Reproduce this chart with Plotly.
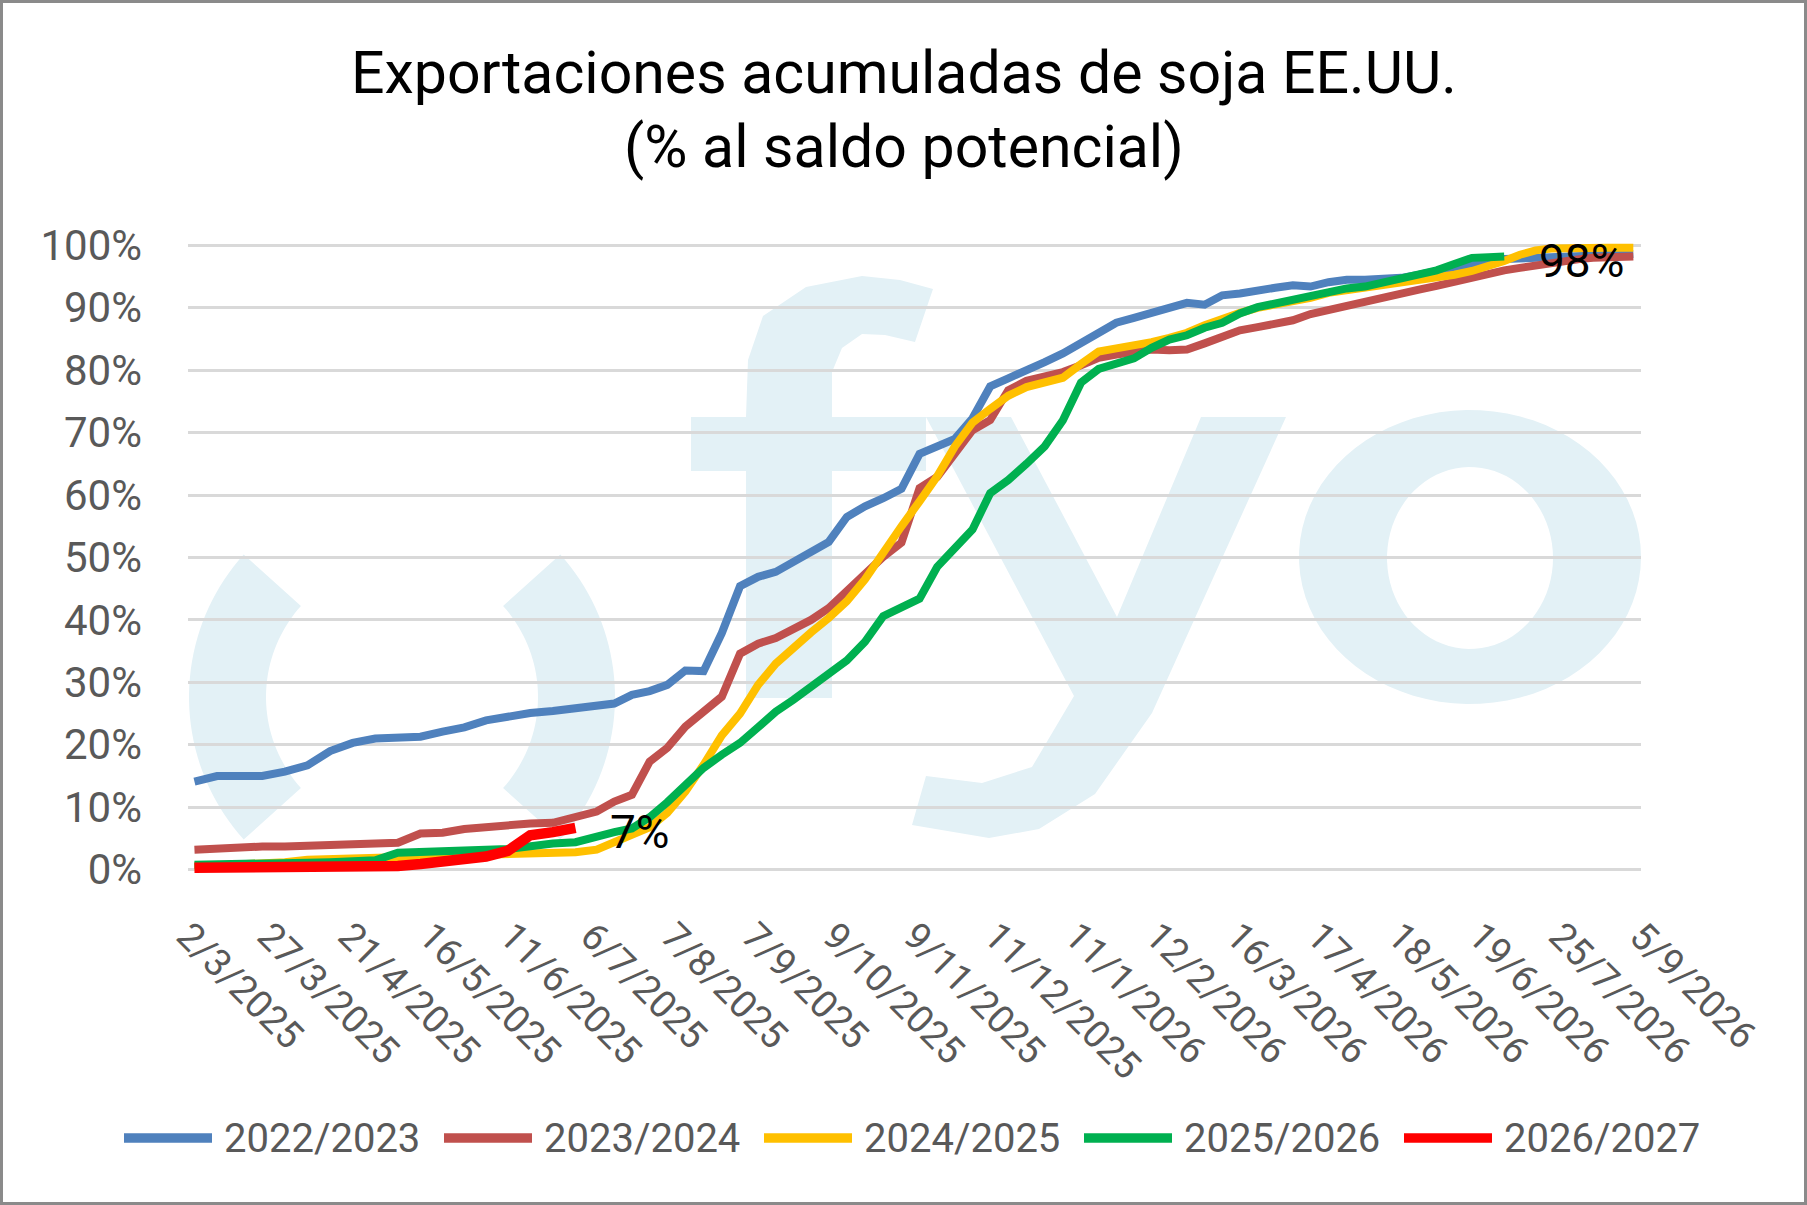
import numpy as np
import pandas as pd
import plotly.graph_objects as go

# x-axis labels (Excel category labels, evenly spaced)
etiquetas = ["2/3/2025", "27/3/2025", "21/4/2025", "16/5/2025", "11/6/2025", "6/7/2025",
             "7/8/2025", "7/9/2025", "9/10/2025", "9/11/2025", "11/12/2025", "11/1/2026",
             "12/2/2026", "16/3/2026", "17/4/2026", "18/5/2026", "19/6/2026", "25/7/2026",
             "5/9/2026"]
inicio = "2025-03-04"   # first weekly point

# accumulated exports, % of potential balance (weekly)
s2223 = [14.1, 15.0, 15.0, 15.0, 15.7, 16.7, 19.0, 20.3, 21.0, 21.0, 21.3, 22.1, 22.8, 23.9,
         24.6, 25.1, 25.4, 25.8, 26.0, 26.6, 28.0, 28.6, 29.6, 31.9, 31.8, 37.9, 45.4, 46.9,
         47.7, 49.4, 50.9, 52.5, 56.5, 58.2, 59.5, 61.0, 66.6, 67.7, 69.0, 72.3, 77.4, 78.7,
         79.9, 81.3, 82.7, 84.4, 86.3, 87.6, 88.4, 89.2, 90.1, 90.8, 90.5, 92.0, 92.3, 92.9,
         93.2, 93.6, 93.4, 94.1, 94.5, 94.5, 94.5, 94.8, 95.3, 95.9, 96.5, 97.2, 97.6, 97.8,
         97.9, 98.0, 98.1, 98.2, 98.3, 98.4, 98.5, 98.5, 98.6]
s2324 = [3.2, 3.4, 3.7, 3.7, 3.7, 3.8, 3.9, 4.0, 4.1, 4.3, 5.8, 5.9, 6.5, 6.9, 7.0, 7.4, 7.5,
         8.6, 9.3, 10.9, 12.0, 17.3, 19.5, 22.9, 25.3, 27.7, 34.6, 36.2, 37.1, 38.4, 40.0,
         41.9, 44.6, 47.6, 50.1, 52.4, 61.1, 62.9, 66.9, 70.4, 72.0, 76.8, 78.3, 79.0, 79.7,
         80.8, 82.0, 82.5, 83.0, 83.3, 83.2, 83.3, 84.3, 85.3, 86.4, 86.9, 87.3, 88.0, 89.0,
         89.7, 90.4, 91.1, 91.7, 92.3, 92.9, 93.5, 94.2, 95.0, 95.6, 96.0, 96.4, 96.8, 97.3,
         97.6, 97.8, 98.0, 98.1, 98.1, 98.2]
s2425 = [0.5, 0.6, 0.7, 0.9, 1.2, 1.6, 1.7, 1.8, 1.8, 1.9, 1.9, 2.0, 2.0, 2.1, 2.2, 2.4, 2.6,
         2.8, 3.2, 4.5, 5.6, 6.8, 9.1, 12.5, 16.8, 21.5, 25.0, 29.6, 33.0, 35.7, 38.0, 40.3,
         43.0, 46.5, 51.0, 55.0, 59.0, 63.0, 67.8, 71.6, 73.8, 75.9, 77.3, 78.0, 78.8, 81.0,
         83.0, 83.5, 83.9, 84.5, 85.2, 86.0, 87.2, 88.3, 89.2, 90.0, 90.5, 91.1, 91.6, 92.4,
         92.8, 93.1, 93.5, 94.0, 94.4, 94.8, 95.3, 95.9, 96.6, 97.5, 98.5, 99.2, 99.5, 99.6,
         99.6, 99.6, 99.6, 99.6, 99.6]
s2526 = [0.8, 0.8, 0.9, 0.9, 1.0, 1.1, 1.2, 1.3, 1.5, 2.7, 2.9, 3.0, 3.1, 3.2, 3.3, 3.9, 4.2,
         4.4, 5.4, 6.0, 6.6, 8.4, 10.8, 13.5, 16.3, 18.4, 20.3, 22.8, 25.3, 27.2, 29.4, 31.4,
         33.5, 36.5, 40.6, 42.0, 43.4, 48.5, 51.5, 54.5, 60.3, 62.4, 65.0, 67.8, 72.0, 78.0,
         80.2, 81.1, 81.9, 83.6, 84.9, 85.6, 86.8, 87.6, 89.1, 90.1, 90.7, 91.4, 92.1, 92.8,
         93.1, 93.4, 94.0, 94.7, 95.3, 96.0, 97.0, 98.0, 98.1, 98.2]
s2627 = [0.3, 0.3, 0.3, 0.3, 0.3, 0.3, 0.3, 0.3, 0.4, 0.6, 0.9, 1.2, 1.6, 2.1, 3.0, 5.5, 6.0, 6.7]

series = [
    ("2022/2023", s2223, "#4f81bd", 8),
    ("2023/2024", s2324, "#c0504d", 8),
    ("2024/2025", s2425, "#ffc000", 8),
    ("2025/2026", s2526, "#00b050", 8),
    ("2026/2027", s2627, "#ff0000", 10.5),
]

titulo = ["Exportaciones acumuladas de soja EE.UU.", "(% al saldo potencial)"]

# the category axis spaces labels evenly, so dates map piecewise-linearly onto label slots
t_lab = pd.to_datetime(etiquetas, dayfirst=True)
dias_lab = (t_lab - t_lab[0]).days.values
fechas = pd.date_range(inicio, periods=len(s2223), freq="7D")
dias = (fechas - t_lab[0]).days.values
xpos = np.interp(dias, dias_lab, np.arange(len(etiquetas)))

W, H = 1807, 1205
ML, MR, MT, MB = 188, 166, 236, 326
PW, PH = W - ML - MR, H - MT - MB


def paper(px, py):
    return (px - ML) / PW, (H - MB - py) / PH


def path_of(pts):
    s = ""
    for i, (px, py) in enumerate(pts):
        x, y = paper(px, py)
        s += ("M" if i == 0 else "L") + f"{x:.5f},{y:.5f} "
    return s + "Z "


fig = go.Figure()

for name, vals, color, lw in series:
    fig.add_trace(go.Scatter(x=xpos[:len(vals)], y=vals, mode="lines", name=name,
                             line=dict(color=color, width=lw), hoverinfo="skip"))

# end labels for the last two seasons
for vals in (s2526, s2627):
    fig.add_annotation(x=xpos[len(vals) - 1], y=vals[-1], text=f"{round(vals[-1])}%",
                       showarrow=False, xanchor="left", yanchor="middle", xshift=33, yshift=-4,
                       font=dict(family="Roboto", size=46, color="black"))

# title, two centred lines
for txt, py in zip(titulo, (72, 147)):
    tx, ty = paper(W / 2, py)
    fig.add_annotation(x=tx, y=ty, xref="paper", yref="paper", text=txt, showarrow=False,
                       xanchor="center", yanchor="middle",
                       font=dict(family="Roboto", size=59, color="black"))

# legend row below the axis (Excel style: long line sample, then the season)
ley_y = 1138
for k, (name, vals, color, lw) in enumerate(series):
    x0 = 124 + 320 * k
    ax0, ay = paper(x0, ley_y)
    ax1, _ = paper(x0 + 88, ley_y)
    fig.add_shape(type="line", xref="paper", yref="paper", x0=ax0, x1=ax1, y0=ay, y1=ay,
                  line=dict(color=color, width=9.5))
    tx, _ = paper(x0 + 98, ley_y)
    fig.add_annotation(x=tx, y=ay, xref="paper", yref="paper", text=name, showarrow=False,
                       xanchor="left", yanchor="middle",
                       font=dict(family="Roboto", size=40, color="#595959"))

# fyo watermark in the plot background
wm = "#e3f1f6"
cx, cy, ro, ri = 402, 697, 213, 136
wpath = ""
for a0 in (180, 0):
    th = np.radians(np.linspace(a0 - 42, a0 + 42, 40))
    outer = list(zip(cx + ro * np.cos(th), cy + ro * np.sin(th)))
    inner = list(zip(cx + ri * np.cos(th[::-1]), cy + ri * np.sin(th[::-1])))
    wpath += path_of(outer + inner)

f_pts = [(691, 471), (746, 471), (746, 698), (832, 698), (832, 471), (926, 471), (926, 417),
         (832, 417), (832, 372), (842, 348), (862, 334), (885, 335), (915, 342), (933, 289),
         (900, 280), (862, 276), (806, 287), (763, 316), (748, 360), (746, 417), (691, 417)]
y_pts = [(926, 417), (1011, 417), (1117, 617), (1201, 417), (1286, 417), (1152, 713),
         (1095, 794), (1039, 829), (989, 838), (912, 825), (926, 776), (982, 783), (1032, 767),
         (1074, 696)]
wpath += path_of(f_pts) + path_of(y_pts)

th = np.radians(np.linspace(0, 360, 80))
wpath += path_of(list(zip(1470 + 171 * np.cos(th), 557 + 147 * np.sin(th))))
wpath += path_of(list(zip(1470 + 83 * np.cos(th), 558 + 91 * np.sin(th))))

fig.add_shape(type="path", path=wpath, xref="paper", yref="paper", layer="below",
              fillcolor=wm, line=dict(width=0), fillrule="evenodd")

# chart border
bx0, by0 = paper(1.5, 1.5)
bx1, by1 = paper(W - 1.5, H - 1.5)
fig.add_shape(type="rect", xref="paper", yref="paper", x0=bx0, y0=by0, x1=bx1, y1=by1,
              line=dict(color="#8a8a8a", width=3), layer="above")

fig.update_layout(
    width=W, height=H, autosize=False,
    margin=dict(l=ML, r=MR, t=MT, b=MB, autoexpand=False),
    paper_bgcolor="white", plot_bgcolor="rgba(0,0,0,0)",
    font=dict(family="Roboto", color="#595959"),
    showlegend=False,
    xaxis=dict(range=[0, len(etiquetas) - 1], tickmode="array",
               tickvals=list(range(len(etiquetas))), ticktext=etiquetas,
               tickangle=45, showgrid=False, zeroline=False, showline=False,
               ticks="", tickfont=dict(size=38, color="#595959"), ticklabelstandoff=26),
    yaxis=dict(range=[-1.5, 101.5], tickmode="array", tickvals=list(range(0, 101, 10)),
               ticktext=[f"{v}%" for v in range(0, 101, 10)],
               showgrid=True, gridcolor="#d9d9d9", gridwidth=2.5, zeroline=False,
               showline=False, ticks="", tickfont=dict(size=42, color="#595959"),
               ticklabelstandoff=45),
)

fig.write_html("out.html", config={"displayModeBar": False},
               post_script="document.body.style.margin='0';")
